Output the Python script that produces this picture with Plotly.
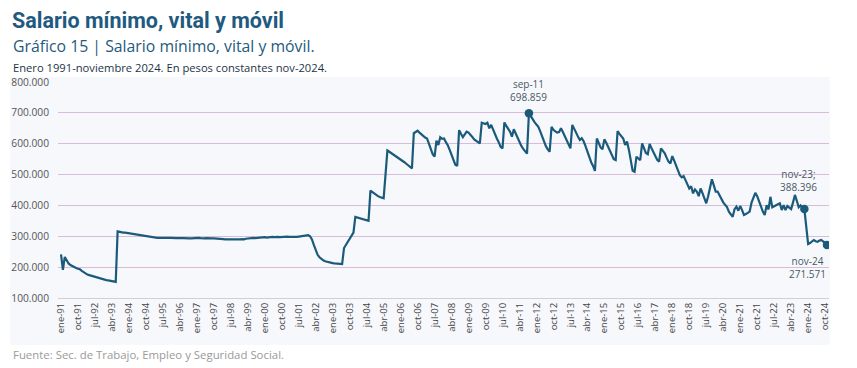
import plotly.graph_objects as go

# ---- data (thousands of constant nov-2024 pesos), monthly Jan-1991 .. Nov-2024
v1991 = [241, 191, 233, 220, 212, 207, 203, 200, 197, 195, 193, 188]
v1992 = [183, 179, 176, 174, 172, 170, 168, 166, 164, 163, 161, 160]
v1993 = [158, 157, 156, 155, 154, 152, 316, 314, 313, 312, 312, 311]
v1994 = [310, 309, 308, 307, 306, 305, 303, 301, 300, 299, 298, 297]
v1995 = [296, 296, 296, 295, 295, 296, 295, 295, 294, 295, 295, 294]
v1996 = [295, 294, 294, 295, 294, 294, 293, 294, 293, 293, 294, 294]
v1997 = [294, 295, 294, 293, 293, 294, 293, 294, 293, 293, 293, 292]
v1998 = [292, 291, 291, 290, 290, 289, 289, 289, 288, 289, 289, 290]
v1999 = [291, 290, 292, 293, 293, 294, 295, 294, 295, 296, 295, 296]
v2000 = [297, 296, 297, 297, 298, 297, 298, 298, 297, 298, 298, 299]
v2001 = [299, 298, 298, 297, 296, 298, 299, 300, 301, 302, 305, 304]
v2002 = [300, 290, 272, 252, 240, 232, 226, 222, 219, 217, 215, 214]
v2003 = [213, 212, 211, 211, 210, 210, 262, 272, 282, 292, 303, 312]
v2004 = [363, 361, 359, 357, 355, 353, 352, 350, 448, 443, 438, 433]
v2005 = [430, 427, 425, 423, 500, 578, 574, 570, 566, 562, 558, 553]
v2006 = [549, 545, 540, 535, 530, 525, 520, 634, 638, 642, 636, 630]
v2007 = [625, 620, 617, 600, 582, 566, 558, 610, 596, 621, 616, 617]
v2008 = [605, 595, 580, 562, 545, 532, 528, 644, 632, 621, 630, 639]
v2009 = [636, 630, 622, 614, 609, 605, 601, 668, 666, 664, 668, 650]
v2010 = [661, 645, 630, 617, 605, 590, 585, 669, 658, 648, 639, 623]
v2011 = [647, 633, 618, 603, 593, 583, 574, 568, 698.859, 688, 677, 670]
v2012 = [662, 655, 640, 622, 605, 592, 582, 574, 655, 645, 640, 636]
v2013 = [638, 650, 638, 625, 610, 595, 585, 661, 650, 636, 623, 612]
v2014 = [618, 608, 592, 574, 556, 540, 528, 512, 617, 603, 588, 582]
v2015 = [614, 603, 590, 575, 560, 550, 547, 641, 632, 624, 617, 596]
v2016 = [607, 580, 545, 512, 509, 558, 552, 547, 601, 585, 570, 566]
v2017 = [599, 585, 570, 560, 548, 542, 585, 578, 569, 555, 542, 536]
v2018 = [560, 545, 528, 515, 498, 491, 495, 482, 470, 455, 462, 439]
v2019 = [452, 445, 430, 455, 440, 420, 407, 430, 460, 485, 465, 445]
v2020 = [445, 432, 420, 410, 402, 395, 380, 370, 363, 388, 396, 383]
v2021 = [398, 385, 369, 372, 376, 380, 409, 425, 441, 430, 412, 395]
v2022 = [380, 369, 401, 387, 428, 394, 398, 400, 404, 407, 385, 401]
v2023 = [385, 398, 392, 388, 410, 434, 415, 394, 400, 392, 388.396, 330]
v2024 = [275, 278, 283, 288, 284, 282, 286, 288, 283, 279, 271.571]

years = list(range(1991, 2025))
month_names = ["ene", "feb", "mar", "abr", "may", "jun",
               "jul", "ago", "sep", "oct", "nov", "dic"]

yearly = [v1991, v1992, v1993, v1994, v1995, v1996, v1997, v1998, v1999,
          v2000, v2001, v2002, v2003, v2004, v2005, v2006, v2007, v2008,
          v2009, v2010, v2011, v2012, v2013, v2014, v2015, v2016, v2017,
          v2018, v2019, v2020, v2021, v2022, v2023, v2024]

categories = []
values = []
for yr, vals in zip(years, yearly):
    for i, v in enumerate(vals):
        categories.append(f"{month_names[i]}-{yr % 100:02d}")
        values.append(v * 1000)

tick_labels = categories[::9]
highlight = ["sep-11", "nov-23", "nov-24"]
y_ticks = [100000, 200000, 300000, 400000, 500000, 600000, 700000, 800000]

# ---- layout geometry (screen coords include the page's 8px body offset)
W, H = 857, 368
OFF = 8
SL, SR, ST, SB = 58, 829, 82, 298          # plot area as seen on screen
pw, ph = SR - SL, SB - ST


def px(x):
    return (x - SL) / pw


def py(y):
    return (SB - y) / ph


LINE = "#1b5a7b"
TITLE = "#1f5a80"
FONT = "Open Sans, Lato, sans-serif"

fig = go.Figure()
fig.add_trace(go.Scatter(
    x=categories, y=values, mode="lines",
    line=dict(color=LINE, width=2.2), hoverinfo="skip", showlegend=False))

hx = highlight
hy = [values[categories.index(c)] for c in hx]
fig.add_trace(go.Scatter(
    x=hx, y=hy, mode="markers",
    marker=dict(color=LINE, size=8.5), hoverinfo="skip", showlegend=False))

n = len(categories)
fig.update_layout(
    template="none",
    width=W, height=H,
    margin=dict(l=SL - OFF, r=W - (SR - OFF), t=ST - OFF, b=H - (SB - OFF), pad=0),
    paper_bgcolor="white", plot_bgcolor="rgba(0,0,0,0)",
    font=dict(family=FONT, color="#555"),
    separators=",.",
    showlegend=False,
    xaxis=dict(
        type="category", categoryorder="array", categoryarray=categories,
        range=[-1.6, n - 1 + 1.06], automargin=False,
        tickmode="array", tickvals=tick_labels, ticktext=tick_labels,
        tickangle=-90, tickfont=dict(size=9.5, color="#444"),
        showgrid=False, showline=True, linecolor="#d0d0d0", linewidth=1,
        ticks="", zeroline=False),
    yaxis=dict(
        range=[100000, 800000], tickmode="array", tickvals=y_ticks,
        tickformat=",.0f", tickfont=dict(size=10.2, color="#555"),
        showgrid=True, gridcolor="#d8bcd8", gridwidth=1, automargin=False,
        zeroline=False, showline=False, ticks="", ticklabelstandoff=8),
)

# light panel behind chart
fig.add_shape(type="rect", xref="paper", yref="paper",
              x0=px(10), x1=px(830), y0=py(345), y1=py(77),
              fillcolor="#f6f8fc", line=dict(width=0), layer="below")

# titles
fig.add_annotation(text="<b>Salario mínimo, vital y móvil</b>", xref="paper", yref="paper",
                   x=px(11), y=py(21), xanchor="left", yanchor="middle", showarrow=False,
                   borderpad=0,
                   font=dict(size=21.5, color=TITLE, family="Roboto, Open Sans, sans-serif"))
fig.add_annotation(text="Gráfico 15 | Salario mínimo, vital y móvil.", xref="paper", yref="paper",
                   x=px(11), y=py(46), xanchor="left", yanchor="middle", showarrow=False,
                   font=dict(size=15.8, color=TITLE, family=FONT))
fig.add_annotation(text="Enero 1991-noviembre 2024. En pesos constantes nov-2024.", xref="paper", yref="paper",
                   x=px(11), y=py(67), xanchor="left", yanchor="middle", showarrow=False,
                   font=dict(size=11.2, color="#1d3448", family=FONT))
fig.add_annotation(text="Fuente: Sec. de Trabajo, Empleo y Seguridad Social.", xref="paper", yref="paper",
                   x=px(11), y=py(354), xanchor="left", yanchor="middle", showarrow=False,
                   font=dict(size=11.4, color="#9a9a9a", family=FONT))

# point labels
lab_font = dict(size=10, color="#4a5866", family=FONT)
fig.add_annotation(text=f"sep-11<br>{hy[0]:,.0f}".replace(",", "."), x=hx[0], y=hy[0],
                   xref="x", yref="y", showarrow=False, yanchor="bottom",
                   yshift=7, font=lab_font)
fig.add_annotation(text=f"nov-23;<br>{hy[1]:,.0f}".replace(",", "."), x=hx[1], y=hy[1],
                   xref="x", yref="y", showarrow=False, yanchor="bottom",
                   yshift=13, xshift=-6, font=lab_font)
fig.add_annotation(text=f"nov-24<br>{hy[2]:,.0f}".replace(",", "."), x=hx[2], y=hy[2],
                   xref="x", yref="y", showarrow=False, yanchor="top",
                   yshift=-7, xshift=-20, font=lab_font)

fig.write_html("out.html")
